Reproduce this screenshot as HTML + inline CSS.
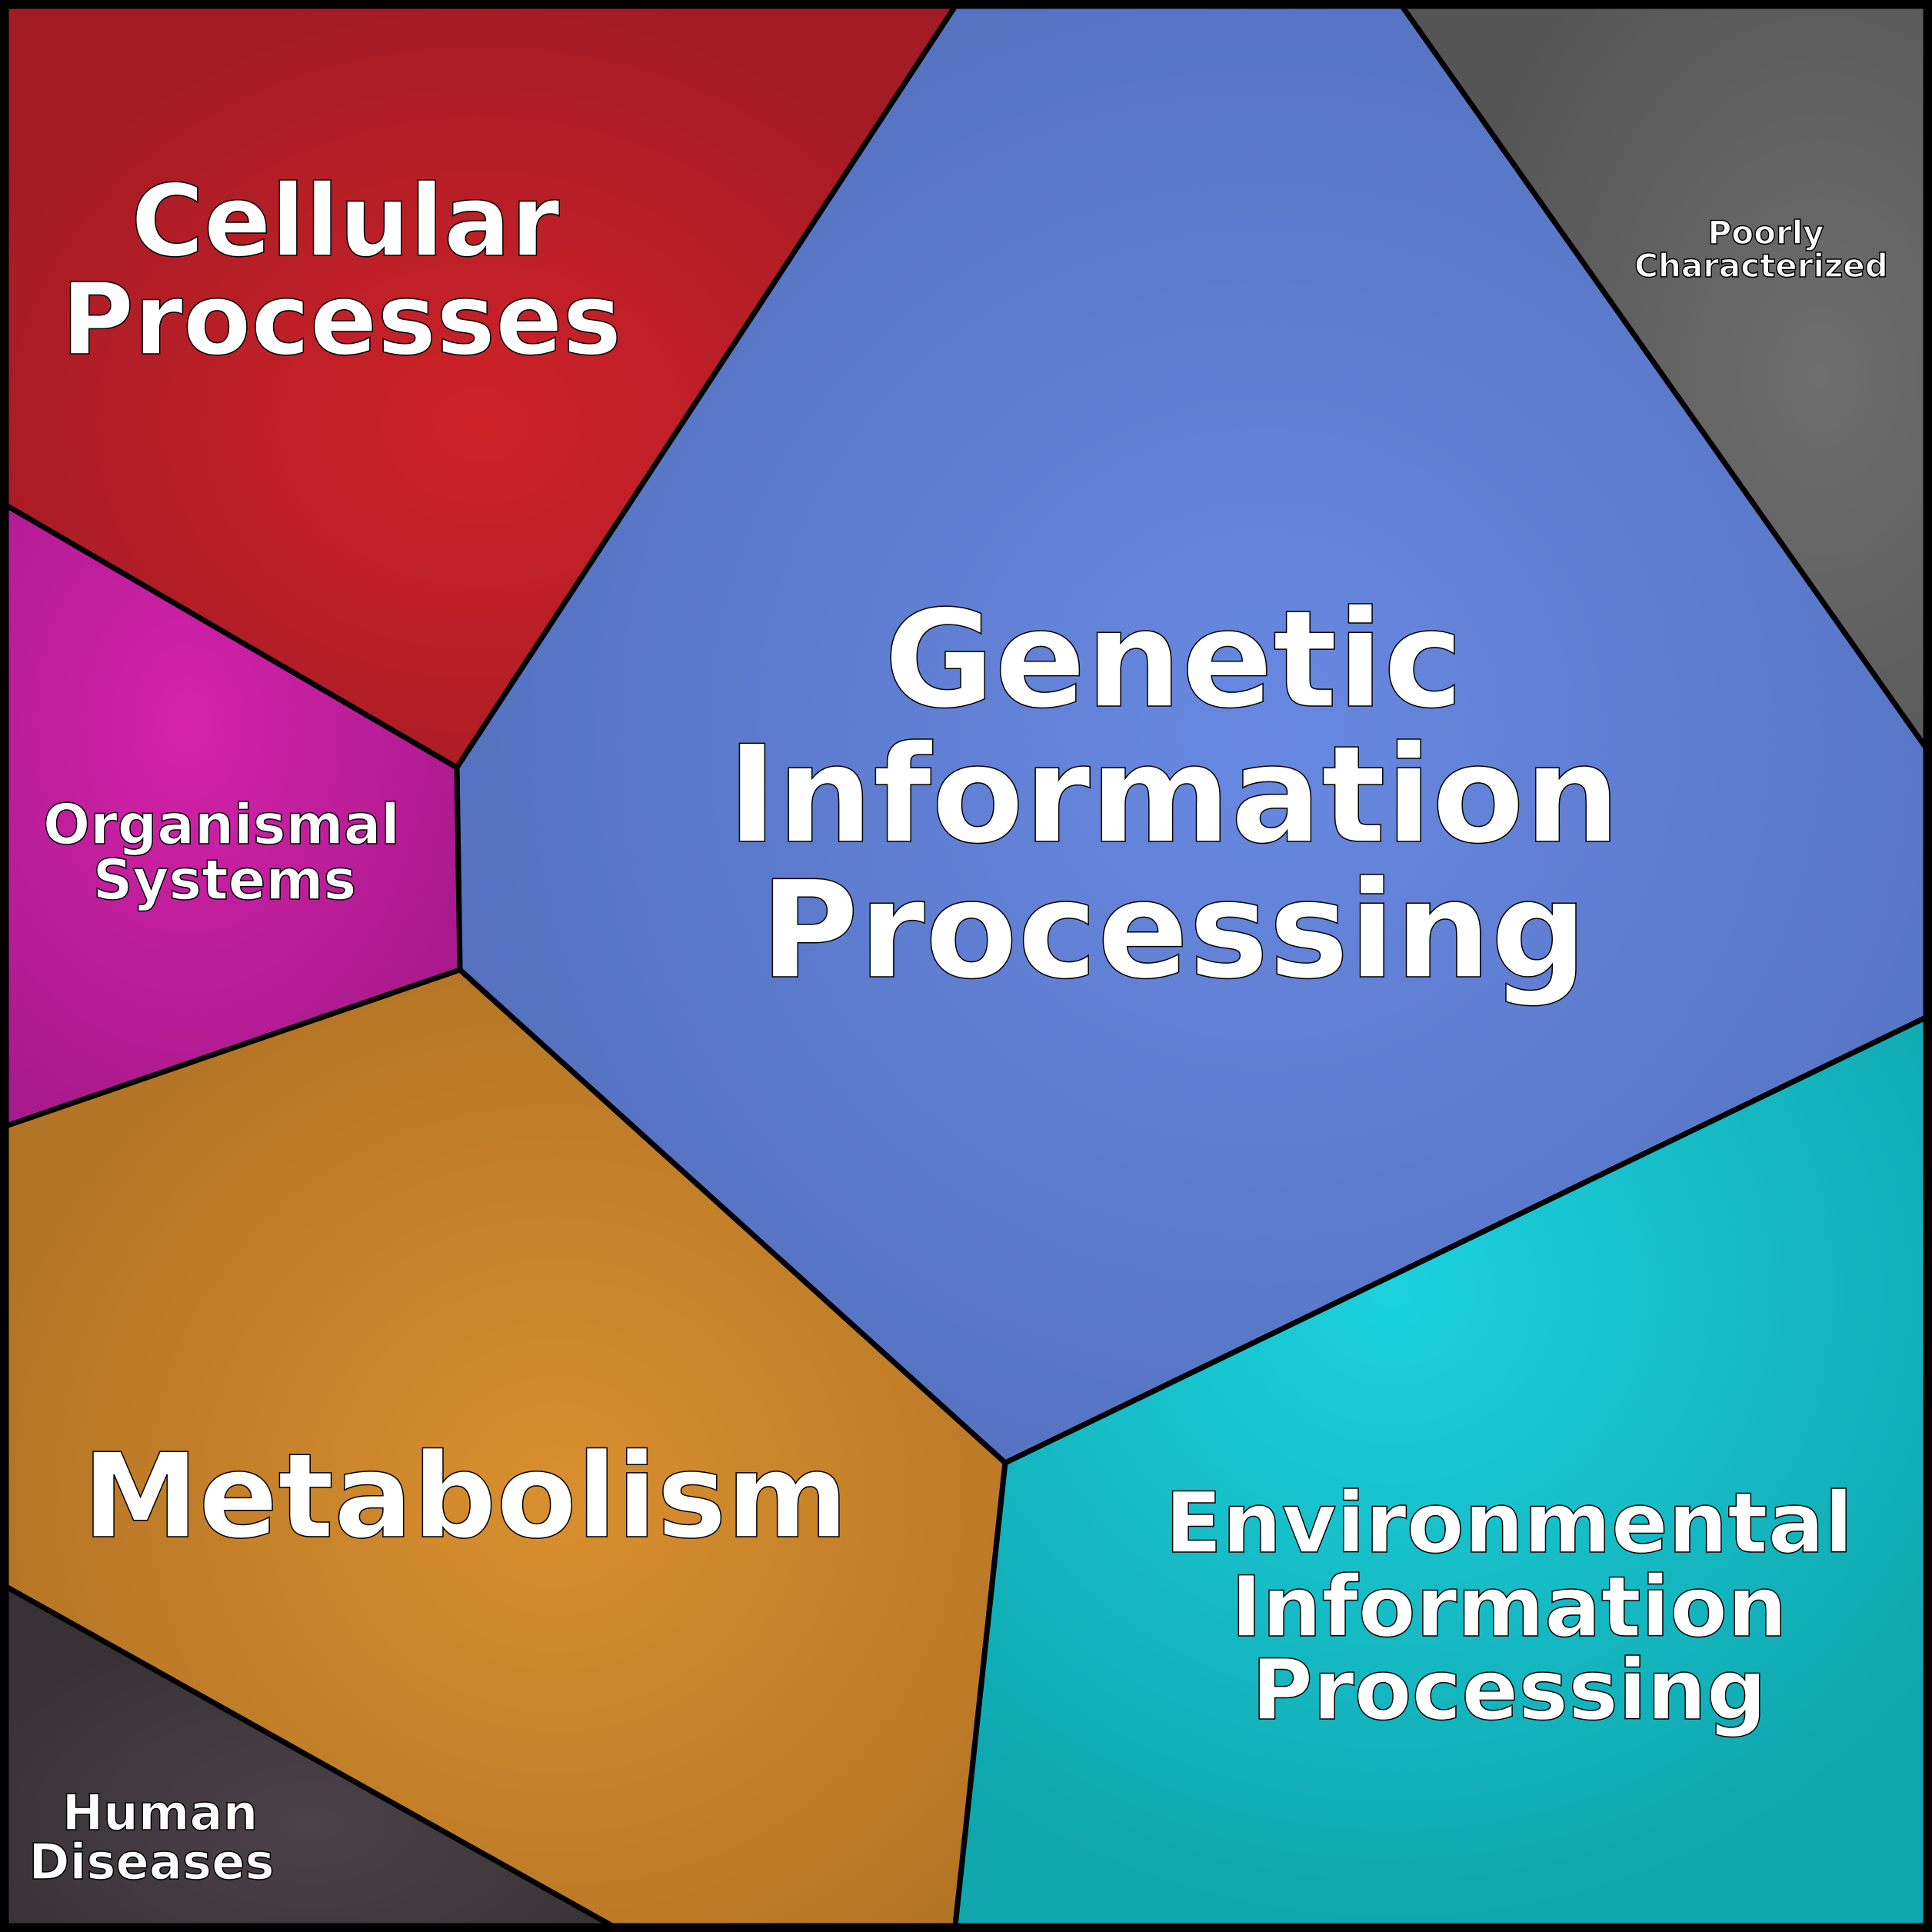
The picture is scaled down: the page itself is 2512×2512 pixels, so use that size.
<!DOCTYPE html>
<html><head><meta charset="utf-8"><style>html,body{margin:0;padding:0;background:#000}svg{display:block}</style></head>
<body>
<svg width="2512" height="2512" viewBox="0 0 2512 2512" xmlns="http://www.w3.org/2000/svg">
<defs>
<radialGradient id="gc" cx="0.5" cy="0.55" r="0.6"><stop offset="0" stop-color="#cf2229"/><stop offset="1" stop-color="#a31b24"/></radialGradient>
<radialGradient id="gg" cx="0.55" cy="0.5" r="0.6"><stop offset="0" stop-color="#6889e2"/><stop offset="1" stop-color="#5470be"/></radialGradient>
<radialGradient id="gp" cx="0.8" cy="0.5" r="0.7"><stop offset="0" stop-color="#6e6e6e"/><stop offset="1" stop-color="#555"/></radialGradient>
<radialGradient id="go" cx="0.4" cy="0.35" r="0.7"><stop offset="0" stop-color="#d422aa"/><stop offset="1" stop-color="#a81a8c"/></radialGradient>
<radialGradient id="gm" cx="0.55" cy="0.55" r="0.6"><stop offset="0" stop-color="#d98f2e"/><stop offset="1" stop-color="#b37425"/></radialGradient>
<radialGradient id="ge" cx="0.45" cy="0.3" r="0.7"><stop offset="0" stop-color="#1bd2de"/><stop offset="1" stop-color="#10a6ae"/></radialGradient>
<radialGradient id="gh" cx="0.5" cy="0.7" r="0.6"><stop offset="0" stop-color="#4b4249"/><stop offset="1" stop-color="#383236"/></radialGradient>
</defs>
<g stroke="#000" stroke-width="7" stroke-linejoin="round">
<polygon fill="url(#gc)" points="8,8 1242,8 594,998 8,657"/>
<polygon fill="url(#gg)" points="1242,8 1823,8 2504,972 2504,1323 1307,1902 598,1261 594,998"/>
<polygon fill="url(#gp)" points="1823,8 2504,8 2504,972"/>
<polygon fill="url(#go)" points="8,657 594,998 598,1261 8,1464"/>
<polygon fill="url(#gm)" points="8,1464 598,1261 1307,1902 1242,2504 796,2504 8,2063"/>
<polygon fill="url(#ge)" points="1307,1902 2504,1323 2504,2504 1242,2504"/>
<polygon fill="url(#gh)" points="8,2063 796,2504 8,2504"/>
</g>
<rect x="5" y="5" width="2502" height="2502" fill="none" stroke="#000" stroke-width="10"/>
<g font-family="'DejaVu Sans','Liberation Sans',sans-serif" font-weight="bold" fill="#fff" stroke="#000" stroke-width="1.5" text-anchor="middle">
<text x="1526" y="918" font-size="175">Genetic</text>
<text x="1526" y="1094" font-size="175">Information</text>
<text x="1526" y="1270" font-size="175">Processing</text>
<text x="449" y="332" font-size="129">Cellular</text>
<text x="444" y="460" font-size="129">Processes</text>
<text x="605" y="1998" font-size="152">Metabolism</text>
<text x="1962" y="2018" font-size="109">Environmental</text>
<text x="1962" y="2127" font-size="109">Information</text>
<text x="1962" y="2235" font-size="109">Processing</text>
<text x="288" y="1097" font-size="72">Organismal</text>
<text x="292" y="1169" font-size="72">Systems</text>
<text x="208" y="2379" font-size="64">Human</text>
<text x="197" y="2443" font-size="64">Diseases</text>
<text x="2296" y="317" font-size="42">Poorly</text>
<text x="2290" y="360" font-size="42">Characterized</text>
</g>
</svg>
</body></html>
